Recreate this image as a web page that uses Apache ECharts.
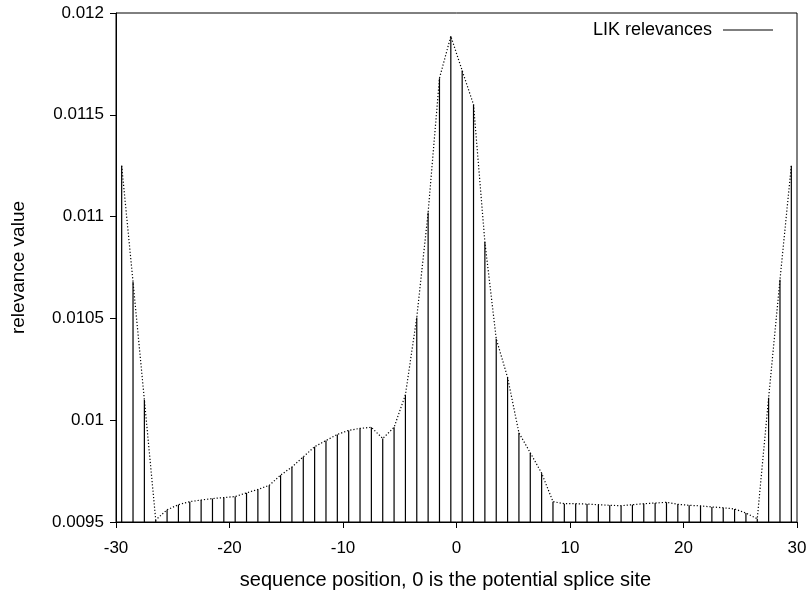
<!DOCTYPE html>
<html>
<head>
<meta charset="utf-8">
<script src="https://cdn.jsdelivr.net/npm/echarts@6/dist/echarts.min.js"></script>
<style>
  html, body { margin: 0; padding: 0; background: #fff; }
  #chart { width: 811px; height: 597px; }
</style>
</head>
<body>
<div id="chart"></div>
<script>
// sequence positions (impulses sit at half-integer positions)
var positions = [
  -29.5, -28.5, -27.5, -26.5, -25.5, -24.5, -23.5, -22.5, -21.5, -20.5,
  -19.5, -18.5, -17.5, -16.5, -15.5, -14.5, -13.5, -12.5, -11.5, -10.5,
  -9.5, -8.5, -7.5, -6.5, -5.5, -4.5, -3.5, -2.5, -1.5, -0.5,
  0.5, 1.5, 2.5, 3.5, 4.5, 5.5, 6.5, 7.5, 8.5, 9.5,
  10.5, 11.5, 12.5, 13.5, 14.5, 15.5, 16.5, 17.5, 18.5, 19.5,
  20.5, 21.5, 22.5, 23.5, 24.5, 25.5, 26.5, 27.5, 28.5, 29.5
];
// LIK relevance values
var relevances = [
  0.01125, 0.01068, 0.01010, 0.00951, 0.00956, 0.009585, 0.00960, 0.009608, 0.009615, 0.00962,
  0.009625, 0.009643, 0.00966, 0.00968, 0.00973, 0.00977, 0.00982, 0.00987, 0.00990, 0.00993,
  0.00995, 0.00996, 0.009965, 0.00991, 0.009965, 0.010125, 0.010505, 0.01102, 0.01168, 0.011886,
  0.011717, 0.01155, 0.010875, 0.01040, 0.01021, 0.009938, 0.00984, 0.00974, 0.00960, 0.00959,
  0.00959, 0.009588, 0.009585, 0.009582, 0.00958, 0.009585, 0.00959, 0.009593, 0.009597, 0.009587,
  0.009582, 0.009579, 0.009574, 0.00957, 0.009564, 0.009544, 0.009516, 0.01011, 0.01069, 0.01125
];
var xTicks = [-30, -20, -10, 0, 10, 20, 30];
var yTicks = [0.0095, 0.01, 0.0105, 0.011, 0.0115, 0.012];
var seriesName = 'LIK relevances';
var xTitle = 'sequence position, 0 is the potential splice site';
var yTitle = 'relevance value';

var points = positions.map(function (p, i) { return [p, relevances[i]]; });
var yMin = yTicks[0], yMax = yTicks[yTicks.length - 1];

var font = 'Liberation Sans, Arial, Helvetica, sans-serif';
var chart = echarts.init(document.getElementById('chart'), null, { renderer: 'canvas' });
chart.setOption({
  animation: false,
  backgroundColor: '#fff',
  grid: { left: 116, right: 14, top: 13, bottom: 75, show: true, borderColor: '#000', borderWidth: 1 },
  legend: {
    data: [{ name: seriesName, icon: 'rect' }],
    right: 38, top: 21, align: 'right', padding: 0,
    itemWidth: 50, itemHeight: 1, itemGap: 6,
    textStyle: { fontFamily: font, fontSize: 18, color: '#000', padding: [0, 6, 0, 0] }
  },
  xAxis: {
    type: 'value', min: -30, max: 30, interval: 10,
    name: xTitle, nameLocation: 'middle', nameGap: 48,
    nameTextStyle: { fontFamily: font, fontSize: 20, color: '#000', padding: [0, 22, 0, 0] },
    axisLine: { show: true, onZero: false, lineStyle: { color: '#000', width: 1 } },
    axisTick: { show: true, inside: false, length: 6, lineStyle: { color: '#000' } },
    axisLabel: { fontFamily: font, fontSize: 17, color: '#000', margin: 18,
      formatter: function (v) { return xTicks.indexOf(v) >= 0 ? String(v) : ''; } },
    splitLine: { show: false }
  },
  yAxis: {
    type: 'value', min: yMin, max: yMax, interval: 0.0005,
    name: yTitle, nameLocation: 'middle', nameGap: 88, nameRotate: 90,
    nameTextStyle: { fontFamily: font, fontSize: 19, color: '#000' },
    axisLine: { show: true, onZero: false, lineStyle: { color: '#000', width: 1 } },
    axisTick: { show: true, inside: false, length: 6, lineStyle: { color: '#000' } },
    axisLabel: { fontFamily: font, fontSize: 17, color: '#000', margin: 12,
      formatter: function (v) {
        for (var i = 0; i < yTicks.length; i++) {
          if (Math.abs(yTicks[i] - v) < 1e-9) return String(yTicks[i]);
        }
        return '';
      } },
    splitLine: { show: false }
  },
  series: [
    {
      name: seriesName,
      type: 'custom',
      itemStyle: { color: '#000' },
      data: points,
      encode: { x: 0, y: 1 },
      renderItem: function (params, api) {
        var x = api.value(0), y = api.value(1);
        var top = api.coord([x, y]);
        var bot = api.coord([x, yMin]);
        return {
          type: 'line',
          shape: { x1: top[0], y1: top[1], x2: bot[0], y2: bot[1] },
          style: { stroke: '#000', lineWidth: 1.2 }
        };
      }
    },
    {
      name: 'outline',
      type: 'line',
      data: points,
      showSymbol: false,
      symbol: 'none',
      lineStyle: { color: '#000', width: 1.2, type: [1.2, 2] },
      z: 3
    }
  ]
});
</script>
</body>
</html>
